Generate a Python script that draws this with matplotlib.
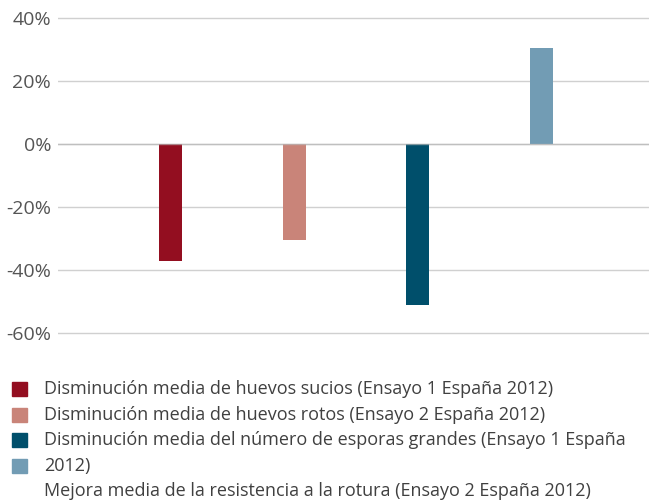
import matplotlib
matplotlib.use("Agg")
import matplotlib.pyplot as plt
from matplotlib.patches import Rectangle

plt.rcParams['font.family'] = ['Open Sans', 'DejaVu Sans']

# data
labels = [
    "Disminución media de huevos sucios (Ensayo 1 España 2012)",
    "Disminución media de huevos rotos (Ensayo 2 España 2012)",
    "Disminución media del número de esporas grandes (Ensayo 1 España 2012)",
    "Mejora media de la resistencia a la rotura (Ensayo 2 España 2012)",
]
values = [-37, -30.5, -51, 30.5]
colors = ["#930E20", "#C98479", "#004F6B", "#729CB4"]
yticks = [-60, -40, -20, 0, 20, 40]

W, H = 649, 501
fig = plt.figure(figsize=(W / 100, H / 100), dpi=100)

# axes placement in pixels
ax_left, ax_right = 58, 649
ax_top, ax_bot = 14.85, 336.15
ax = fig.add_axes([ax_left / W, 1 - ax_bot / H, (ax_right - ax_left) / W, (ax_bot - ax_top) / H])

x = list(range(len(values)))
ax.bar(x, values, width=0.185, color=colors, zorder=2)
ax.axhline(0, color="#b8b8b8", lw=1.0, alpha=0.7, zorder=3)

ax.set_xlim(-0.907, 3.867)
ax.set_ylim(-61, 41)
ax.set_yticks(yticks)
ax.set_yticklabels([f"{t}%" for t in yticks])
ax.set_xticks([])
ax.grid(axis="y", color="#d0d0d0", lw=1.0, zorder=0)
ax.set_axisbelow(True)
for s in ax.spines.values():
    s.set_visible(False)
ax.tick_params(axis="y", length=0, pad=5, labelsize=14, labelcolor="#555555")

# legend, drawn by hand: the long third label wraps, and the squares stay on the first four lines
lines = [labels[0], labels[1],
         "Disminución media del número de esporas grandes (Ensayo 1 España",
         "2012)", labels[3]]
row_y0, row_dy = 389, 25.6
for i, c in enumerate(colors):
    yc = row_y0 + i * row_dy
    fig.patches.append(Rectangle((12 / W, 1 - (yc + 7) / H), 15 / W, 14 / H,
                                 transform=fig.transFigure, color=c, figure=fig))
for i, t in enumerate(lines):
    yc = row_y0 + i * row_dy
    fig.text(44 / W, 1 - yc / H, t, ha="left", va="center", fontsize=13, color="#404040")

fig.savefig("out.png", dpi=100)
